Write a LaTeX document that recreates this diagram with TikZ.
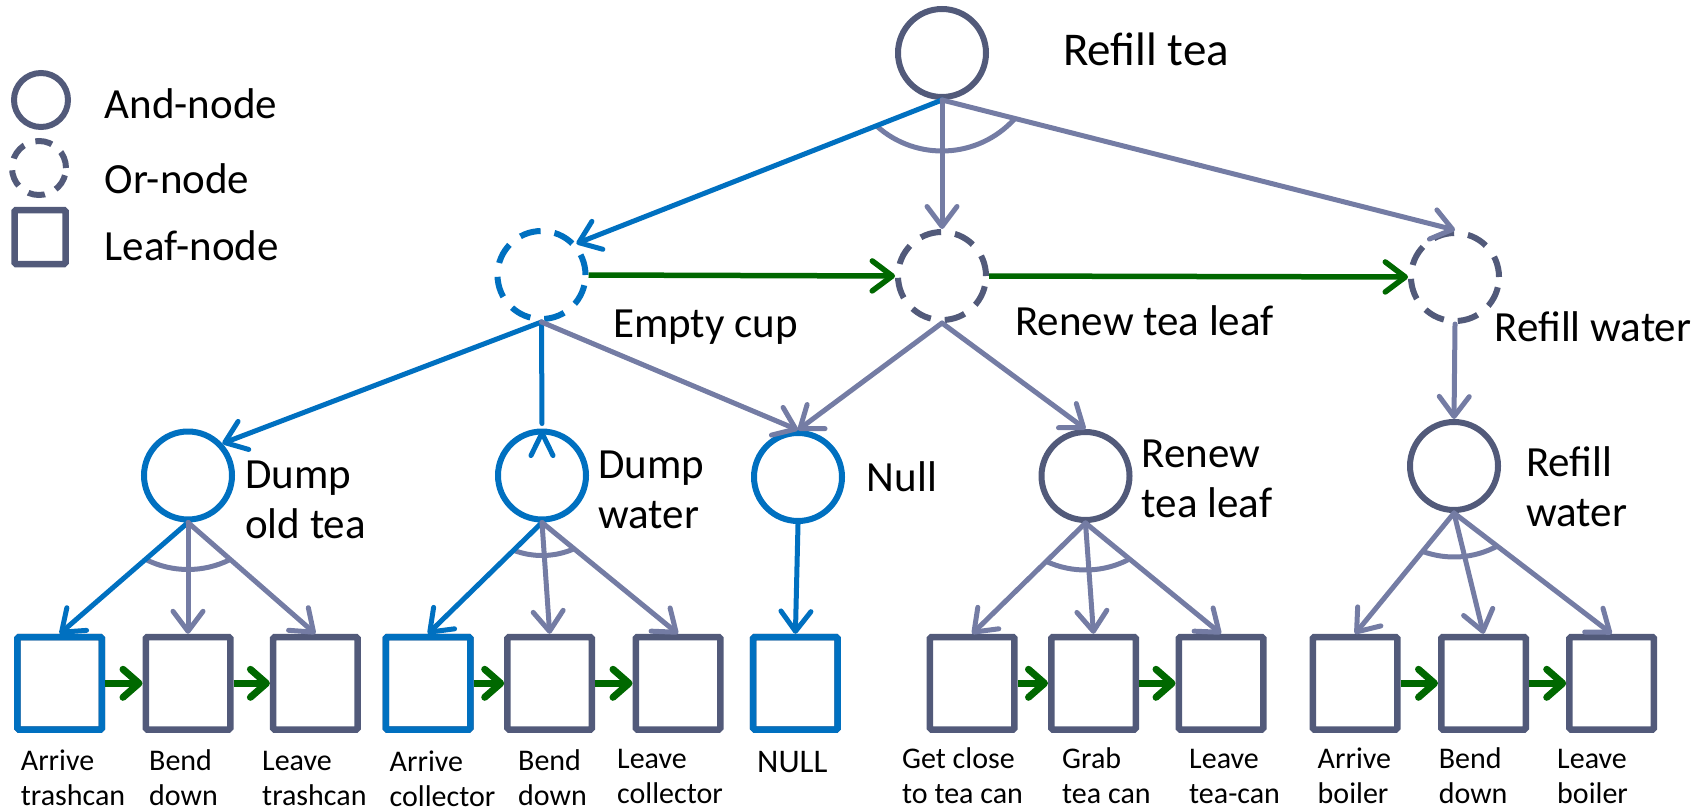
\documentclass[tikz,border=0pt]{standalone}
\usepackage{fontspec}
\setmainfont{Carlito}
\usetikzlibrary{arrows.meta}
\definecolor{nodeslate}{RGB}{82,90,122}
\definecolor{edgegray}{RGB}{116,124,164}
\definecolor{taskblue}{RGB}{0,112,192}
\definecolor{seqgreen}{RGB}{0,104,0}
\begin{document}
\begin{tikzpicture}[x=1pt,y=-1pt,
  every node/.style={inner sep=0pt},
  andnode/.style={circle, draw=nodeslate, line width=6pt, minimum size=88pt},
  ornode/.style={andnode, dash pattern=on 21pt off 14pt},
  leafnode/.style={rectangle, draw=nodeslate, line width=6.5pt, minimum width=84.5pt, minimum height=92.5pt, rounded corners=1.5pt},
  hl/.style={draw=taskblue},
  grayarrow/.style={draw=edgegray, line width=5pt, line cap=round, -{Straight Barb[length=20pt,width=30pt,line cap=round,line join=round]}},
  bluearrow/.style={grayarrow, draw=taskblue},
  blueline/.style={draw=taskblue, line width=5pt, line cap=round, line join=round},
  seqarrow/.style={draw=seqgreen, line width=5.5pt, -{Straight Barb[length=20pt,width=30pt,line cap=round,line join=round]}},
  leafseq/.style={seqarrow, line width=7pt, -{Straight Barb[length=16pt,width=28pt,line cap=round,line join=round]}},
  andarc/.style={draw=edgegray, line width=5pt},
  lbl/.style={font=\fontsize{43}{50}\selectfont, anchor=base west, align=left},
  leaflbl/.style={font=\fontsize{30}{35}\selectfont, anchor=base west, align=left}
]
\useasboundingbox (0,0) rectangle (1704,811);

% legend
\node[andnode, minimum size=54pt] (legand) at (41,100) {};
\node[andnode, minimum size=54pt, dash pattern=on 17pt off 12pt] (legor) at (39,168) {};
\node[leafnode, minimum width=51pt, minimum height=54pt] (legleaf) at (40,237) {};
\node[lbl] (legandtxt) at (104.5,118) {And-node};
\node[lbl] (legortxt) at (104.5,193) {Or-node};
\node[lbl] (legleaftxt) at (104.5,260) {Leaf-node};

% task nodes
\node[andnode] (root) at (942,53) {};
\node[ornode, hl] (cup) at (541.5,275) {};
\node[ornode] (renewor) at (942,276) {};
\node[ornode] (refillor) at (1455,277) {};
\node[andnode, hl] (dumpold) at (188,475.5) {};
\node[andnode, hl] (dumpwater) at (542,475.5) {};
\node[andnode, hl] (nullnd) at (798,477) {};
\node[andnode] (renewand) at (1085.5,476) {};
\node[andnode] (refilland) at (1454,466) {};

% leaves
\foreach \n/\x in {1/59.7,2/188,3/315.4,4/428,5/549.7,6/678,7/795.4,8/972.2,9/1093.5,10/1221,11/1355,12/1483.5,13/1611.7}
  \node[leafnode] (l\n) at (\x,683.3) {};
\foreach \n in {1,4,7} \node[leafnode, hl] at (l\n) {};

% node labels (multi-line labels are placed by their last baseline)
\node[lbl, font=\fontsize{47}{50}\selectfont] (roottxt) at (1063,65) {Refill tea};
\node[lbl] (cuptxt) at (613,337) {Empty cup};
\node[lbl] (renewortxt) at (1015,335) {Renew tea leaf};
\node[lbl] (refillortxt) at (1494.5,341.7) {Refill water};
\node[lbl] (dumpoldtxt) at (245,538) {Dump\\old tea};
\node[lbl] (dumpwatertxt) at (598.3,528) {Dump\\water};
\node[lbl] (nulltxt) at (866.7,491.7) {Null};
\node[lbl] (renewandtxt) at (1141.6,517) {Renew\\tea leaf};
\node[lbl] (refillandtxt) at (1526,526.7) {Refill\\water};

% leaf labels
\node[leaflbl] (lt1) at (20.7,805) {Arrive\\trashcan};
\node[leaflbl] (lt2) at (149,805) {Bend\\down};
\node[leaflbl] (lt3) at (262,805) {Leave\\trashcan};
\node[leaflbl] (lt4) at (389.5,806) {Arrive\\collector};
\node[leaflbl] (lt5) at (518,805) {Bend\\down};
\node[leaflbl] (lt6) at (617,803) {Leave\\collector};
\node[leaflbl, font=\fontsize{33}{35}\selectfont] (lt7) at (757,772.7) {NULL};
\node[leaflbl] (lt8) at (902,803) {Get close\\to tea can};
\node[leaflbl] (lt9) at (1062,803) {Grab\\tea can};
\node[leaflbl] (lt10) at (1189,803) {Leave\\tea-can};
\node[leaflbl] (lt11) at (1317.5,803) {Arrive\\boiler};
\node[leaflbl] (lt12) at (1438.6,803) {Bend\\down};
\node[leaflbl] (lt13) at (1557,803) {Leave\\boiler};

% and-arcs
\draw[andarc] (root.center) ++(131.8:98) arc[start angle=131.8, end angle=42.2, radius=98];
\draw[andarc] (dumpold.center) ++(116.7:94) arc[start angle=116.7, end angle=63.5, radius=94];
\draw[andarc] (dumpwater.center) ++(110.7:80) arc[start angle=110.7, end angle=66.5, radius=80];
\draw[andarc] (renewand.center) ++(114.6:94) arc[start angle=114.6, end angle=62.2, radius=94];
\draw[andarc] (refilland.center) ++(110.2:91) arc[start angle=110.2, end angle=61.7, radius=91];

% decomposition edges
\draw[bluearrow] (root.south) -- (cup.42);
\draw[grayarrow] (root.south) -- (renewor.north);
\draw[grayarrow] (root.south) -- (refillor.north);
\draw[bluearrow] (cup.south) -- (dumpold.43);
\draw[blueline, shorten >=5pt] (cup.south) -- (dumpwater.north);
\draw[blueline] ([xshift=-11pt,yshift=-27pt]dumpwater.north) -- ([yshift=-4.5pt]dumpwater.north) -- ([xshift=11pt,yshift=-27pt]dumpwater.north);
\draw[grayarrow] (cup.south) -- (nullnd.north);
\draw[grayarrow] (renewor.south) -- (nullnd.north);
\draw[grayarrow] (renewor.south) -- (renewand.north);
\draw[grayarrow] (refillor.south) -- (refilland.north);

\draw[bluearrow] (dumpold.south) -- (l1.north);
\draw[grayarrow] (dumpold.south) -- (l2.north);
\draw[grayarrow] (dumpold.south) -- (l3.north);
\draw[bluearrow] (dumpwater.south) -- (l4.north);
\draw[grayarrow] (dumpwater.south) -- (l5.north);
\draw[grayarrow] (dumpwater.south) -- (l6.north);
\draw[bluearrow] (nullnd.south) -- (l7.north);
\draw[grayarrow] (renewand.south) -- (l8.north);
\draw[grayarrow] (renewand.south) -- (l9.north);
\draw[grayarrow] (renewand.south) -- (l10.north);
\draw[grayarrow] (refilland.south) -- (l11.north);
\draw[grayarrow] (refilland.south) -- (l12.north);
\draw[grayarrow] (refilland.south) -- (l13.north);

% sequence edges
\draw[seqarrow] (cup.east) -- (renewor.west);
\draw[seqarrow] (renewor.east) -- (refillor.west);
\foreach \a/\b in {1/2,2/3,4/5,5/6,8/9,9/10,11/12,12/13}
  \draw[leafseq] (l\a.east) -- (l\b.west);
\end{tikzpicture}
\end{document}
